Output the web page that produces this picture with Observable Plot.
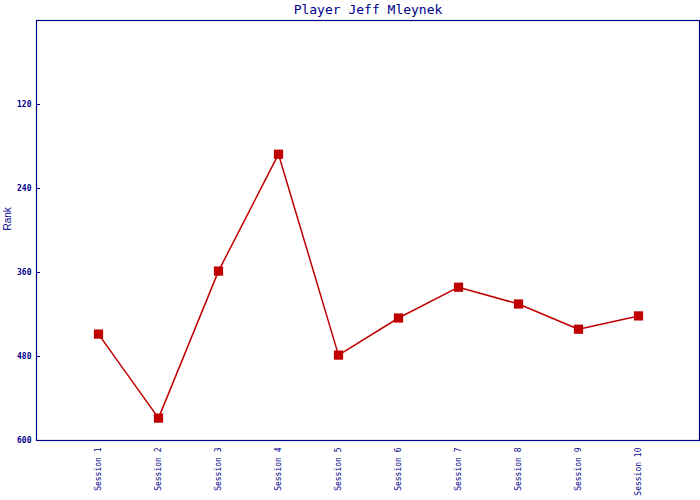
<!DOCTYPE html>
<html>
<head>
<meta charset="utf-8">
<script src="https://cdn.jsdelivr.net/npm/d3@7"></script>
<script src="https://cdn.jsdelivr.net/npm/@observablehq/plot@0.6"></script>
<style>
  html, body { margin: 0; padding: 0; background: #fff; }
</style>
</head>
<body>
<div id="chart"></div>
<script>
const title = "Player Jeff Mleynek";
const sessions = ["Session 1","Session 2","Session 3","Session 4","Session 5","Session 6","Session 7","Session 8","Session 9","Session 10"];
const ranks = [448, 568, 358, 191, 478, 425, 381, 405, 441, 422];
const yTicks = [120, 240, 360, 480, 600];
const yLabel = "Rank";

const data = sessions.map((s, i) => ({session: s, rank: ranks[i]}));

const navy = "#00008b";
const red = "#c00000";
const W = 700, H = 500, mL = 36, mR = 1, mT = 20, mB = 60;

const chart = Plot.plot({
  width: W,
  height: H,
  marginLeft: mL,
  marginRight: mR,
  marginTop: mT,
  marginBottom: mB,
  style: {background: "#fff", fontFamily: "DejaVu Sans Mono", color: navy},
  x: {type: "point", domain: sessions, padding: 1},
  y: {domain: [0, 600], reverse: true},
  marks: [
    Plot.frame({stroke: navy, strokeWidth: 1.2}),
    Plot.ruleY(yTicks.filter(t => t < 600), {stroke: navy, insetRight: W - mL - mR - 4}),
    Plot.axisY({ticks: yTicks, tickSize: 0, tickPadding: 5, label: null, fontSize: 8, fontWeight: "bold", fill: navy}),
    Plot.axisX({tickSize: 0, tickPadding: 7, tickRotate: -90, label: null, fontSize: 8, fill: navy}),
    Plot.text([yLabel], {frameAnchor: "left", rotate: -90, dx: -29, fontFamily: "Liberation Sans", fontSize: 10, fill: navy}),
    Plot.text([title], {frameAnchor: "top", dy: -11, fontSize: 13, fill: navy, lineAnchor: "middle"}),
    Plot.line(data, {x: "session", y: "rank", stroke: red, strokeWidth: 1.5}),
    Plot.dot(data, {x: "session", y: "rank", symbol: "square", r: 5.2, fill: red, stroke: "none"})
  ]
});
document.getElementById("chart").appendChild(chart);
</script>
</body>
</html>
